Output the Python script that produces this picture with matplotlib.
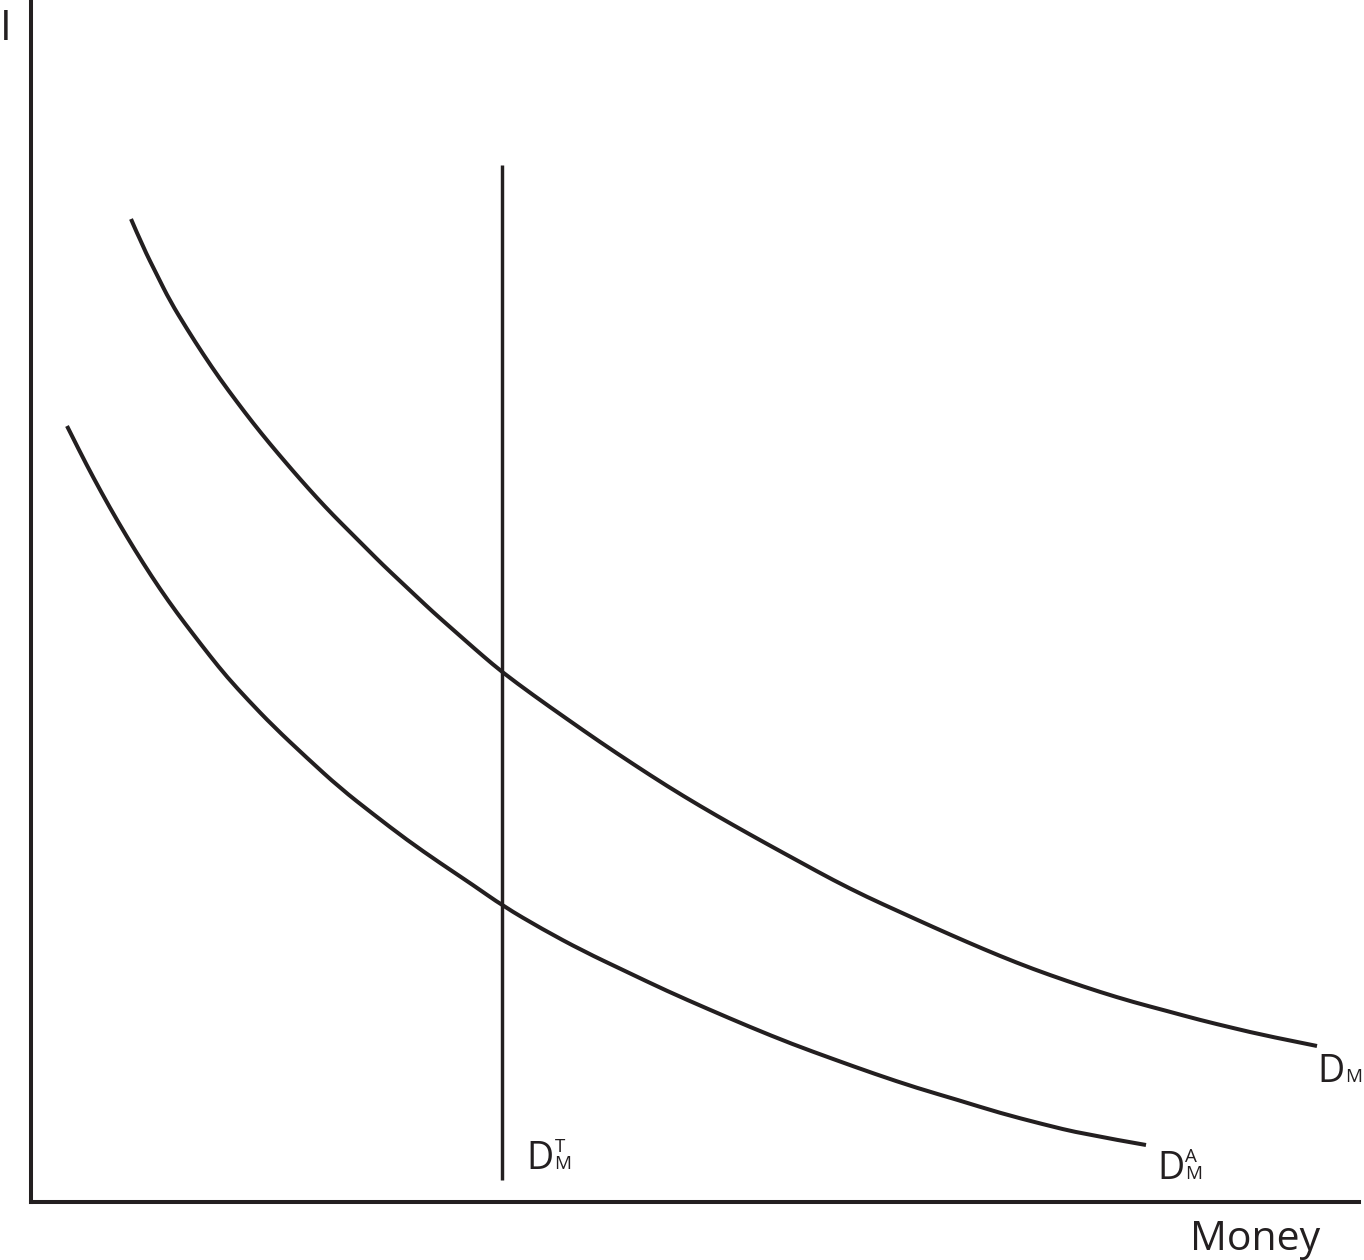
import matplotlib
matplotlib.use('Agg')
import matplotlib.pyplot as plt
from matplotlib.path import Path
from matplotlib.patches import PathPatch

# Money demand curve D_M (money, interest)
dm_money = [100, 112, 126, 139, 156, 172, 189, 206, 222, 239, 256, 269, 286, 302,
            319, 336, 352, 369, 386, 402, 419, 436, 452, 471, 502, 536, 569, 602,
            636, 669, 702, 736, 769, 802, 836, 869, 902, 936, 969, 1002, 1036,
            1069, 1102, 1136, 1169, 1202, 1236, 1286]
dm_rate = [983, 955, 927, 901, 873, 848, 823, 800, 779, 758, 738, 723, 704, 687,
           670, 653, 637, 621, 605, 590, 575, 560, 546, 530, 507, 483, 460, 438,
           416, 396, 377, 358, 340, 322, 305, 290, 275, 260, 246, 233, 221,
           210, 200, 191, 182, 174, 166, 156]

# Asset demand curve D_M^A
dma_money = [36, 49, 62, 79, 96, 112, 129, 146, 162, 179, 196, 217, 242, 276,
             309, 342, 376, 409, 442, 472, 511, 552, 594, 636, 677, 719, 761,
             802, 844, 886, 927, 969, 1011, 1052, 1115]
dma_rate = [776, 750, 725, 694, 665, 639, 613, 589, 568, 546, 525, 502, 476, 444,
            414, 388, 362, 339, 317, 296, 273, 251, 231, 211, 193, 175, 158,
            143, 128, 114, 102, 89, 78, 68, 57]

# Transactions demand D_M^T: vertical line
dmt_money = [471, 471]
dmt_rate = [22, 1037]

X_MAX, Y_MAX = 1328, 1200
INK = '#231f20'
LW = 2.9
FONT = 'Open Sans'


def smooth_path(xs, ys):
    """Quadratic Bezier path using the read points as control points."""
    pts = list(zip(xs, ys))
    verts = [pts[0]]
    codes = [Path.MOVETO]
    for i in range(1, len(pts) - 1):
        if i < len(pts) - 2:
            end = ((pts[i][0] + pts[i + 1][0]) / 2, (pts[i][1] + pts[i + 1][1]) / 2)
        else:
            end = pts[i + 1]
        verts += [pts[i], end]
        codes += [Path.CURVE3, Path.CURVE3]
    return Path(verts, codes)


fig = plt.figure(figsize=(13.64, 12.60), dpi=100)
ax = fig.add_axes([31 / 1364, 58 / 1260, X_MAX / 1364, Y_MAX / 1260])
ax.set_xlim(0, X_MAX)
ax.set_ylim(0, Y_MAX)

for xs, ys in [(dm_money, dm_rate), (dma_money, dma_rate)]:
    ax.add_patch(PathPatch(smooth_path(xs, ys), fill=False, edgecolor=INK, lw=LW,
                           capstyle='butt', clip_on=False))
ax.plot(dmt_money, dmt_rate, color=INK, lw=LW * 0.85, solid_capstyle='butt', clip_on=False)

for side in ['top', 'right']:
    ax.spines[side].set_visible(False)
for side in ['left', 'bottom']:
    ax.spines[side].set_linewidth(LW)
    ax.spines[side].set_color(INK)
ax.set_xticks([])
ax.set_yticks([])


def label(x, y, main, sup=None, sub=None):
    """D with stacked superscript / subscript, placed in data coords."""
    ax.text(x, y, main, fontsize=27, family=FONT, color=INK, va='baseline', ha='left')
    ax.annotate(sub, (x, y), xytext=(20.5, 0), textcoords='offset points',
                fontsize=13.5, family=FONT, color=INK, va='baseline', ha='left')
    if sup:
        ax.annotate(sup, (x, y), xytext=(20.5, 12.5), textcoords='offset points',
                    fontsize=13.5, family=FONT, color=INK, va='baseline', ha='left')


label(1286, 120, 'D', sub='M')
label(1126, 23, 'D', sup='A', sub='M')
label(495, 33, 'D', sup='T', sub='M')

fig.text(1190 / 1364, 1 - 1250 / 1260, 'Money', fontsize=29.5, family=FONT, color=INK,
         ha='left', va='baseline')
fig.text(0 / 1364, 1 - 40 / 1260, 'I', fontsize=30, family=FONT, color=INK,
         ha='left', va='baseline')

fig.savefig('out.png', dpi=100)
